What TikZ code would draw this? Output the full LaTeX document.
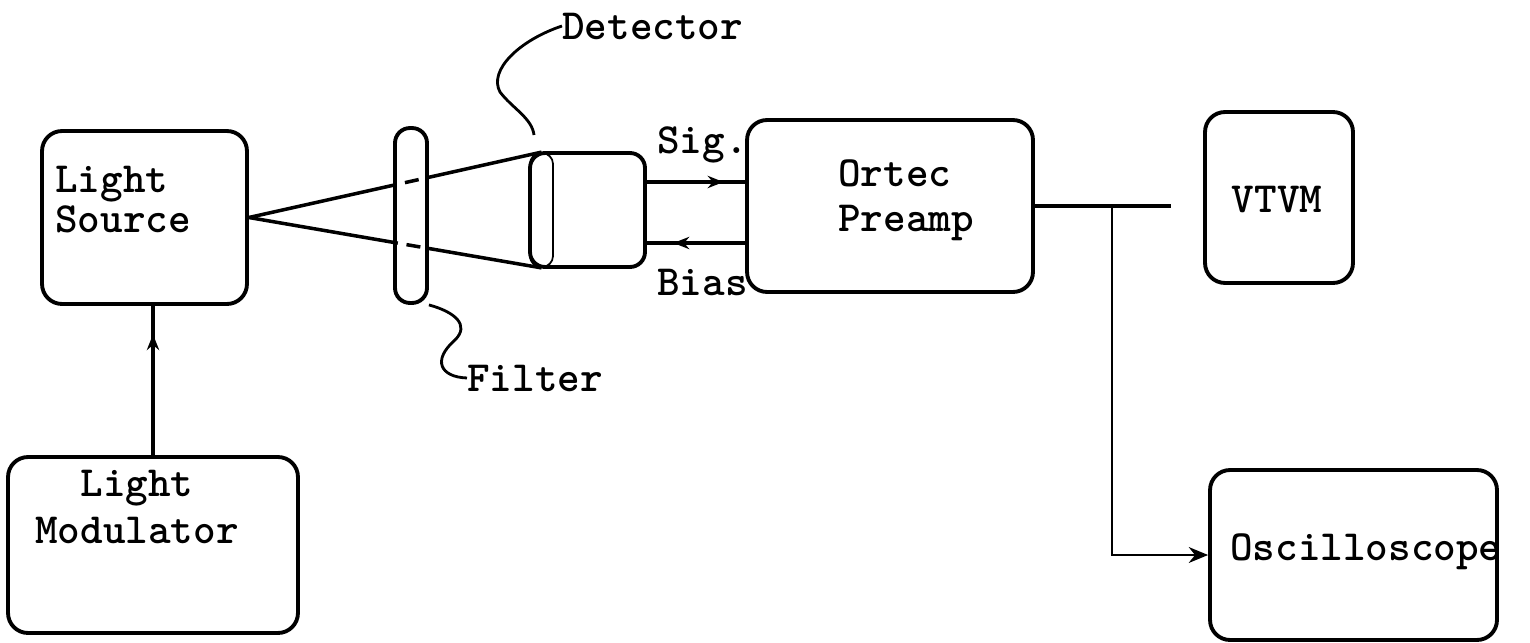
\documentclass[tikz,border=0pt]{standalone}
\usepackage{fontspec}
\usetikzlibrary{arrows.meta, decorations.markings}

\begin{document}
\begin{tikzpicture}[
  x=0.02cm, y=-0.02cm,
  box/.style={rectangle, rounded corners=#1, draw, line width=2.2pt,
              inner sep=0pt},
  box/.default=0.4cm,
  txt/.style={font=\ttfamily\bfseries\fontsize{24.5}{#1}\selectfont,
              inner sep=0pt, align=left},
  txt/.default=25pt,
  wire/.style={line width=2pt},
  tipat/.style={postaction={decorate}, decoration={markings,
                mark=at position #1 with {\arrow{Stealth[length=9pt,width=7pt]}}}},
  leader/.style={line width=1.6pt}
]
\useasboundingbox (0,0) rectangle (1530,642);

%% Boxes
\node[box, minimum width=4.10cm, minimum height=3.46cm] (src)  at (144.5,217.5) {};
\node[box, minimum width=5.80cm, minimum height=3.52cm] (mod)  at (153,545) {};
\node[box=0.3cm, minimum width=2.30cm, minimum height=2.28cm] (det) at (587.5,210) {};
\node[box=0.22cm, minimum width=0.46cm, minimum height=2.28cm, line width=1pt] (cap) at (541.5,210) {};
\node[box, minimum width=5.72cm, minimum height=3.44cm] (pre)  at (890,206) {};
\node[box, minimum width=2.96cm, minimum height=3.42cm] (vtvm) at (1279,197.5) {};
\node[box, minimum width=5.74cm, minimum height=3.40cm] (osc)  at (1353.5,555) {};

%% Texts
\node[txt=22.8pt, anchor=west] (srclbl) at (55,200) {Light\\Source};
\node[txt=26.7pt, align=center] (modlbl) at (137,507) {Light\\Modulator};
\node[txt=25.6pt, anchor=west] (prelbl) at (838,200) {Ortec\\Preamp};
\node[txt] (vtvmlbl) at (1277,200) {VTVM};
\node[txt, anchor=west] (osclbl) at (1230,552) {Oscilloscope};
\node[txt, anchor=west] (detlbl) at (562,26) {Detector};
\node[txt, anchor=west] (siglbl) at (657,145) {Sig.};
\node[txt, anchor=west] (biaslbl) at (657,282) {Bias};
\node[txt, anchor=west] (filtlbl) at (467,378) {Filter};

%% Light beams through the filter
\draw[wire] (src.east) -- (cap.north);
\draw[wire] (src.east) -- (cap.south);
\node[box=0.3cm, fill=white, minimum width=0.64cm, minimum height=3.50cm] (filt) at (411,215.5) {};
\begin{scope}
  \clip ([xshift=2pt]filt.north west) rectangle ([xshift=-2pt]filt.south east);
  \draw[wire, dash pattern=on 8pt off 5pt] (src.east) -- (cap.north);
  \draw[wire, dash pattern=on 8pt off 5pt] (src.east) -- (cap.south);
\end{scope}

%% Leaders
\coordinate (dettip) at (534,135);
\draw[leader] (detlbl.west) .. controls (520,40) and (488,70) .. (500,92)
              .. controls (512,108) and (532,118) .. (dettip);
\draw[leader] (filt.south east) .. controls (455,312) and (470,325) .. (455,340)
              .. controls (432,360) and (440,377) .. (filtlbl.west);

%% Signal wiring
\coordinate (sigA)  at ([yshift=0.56cm]det.east);
\coordinate (biasA) at ([yshift=-0.66cm]det.east);
\draw[wire, tipat=.78] (sigA) -- (sigA -| pre.west);
\draw[wire, tipat=.73] (biasA -| pre.west) -- (biasA);
\draw[wire, tipat=.81] (mod.north) -- (mod.north |- src.south);

\draw[wire, shorten >=0.64cm] (pre.east) -- (pre.east -| vtvm.west);
\coordinate (tap) at ([xshift=1.54cm]pre.east);
\draw[line width=1.4pt, -{Stealth[length=11pt,width=9pt]}] (tap) |- (osc.west);
\end{tikzpicture}
\end{document}
